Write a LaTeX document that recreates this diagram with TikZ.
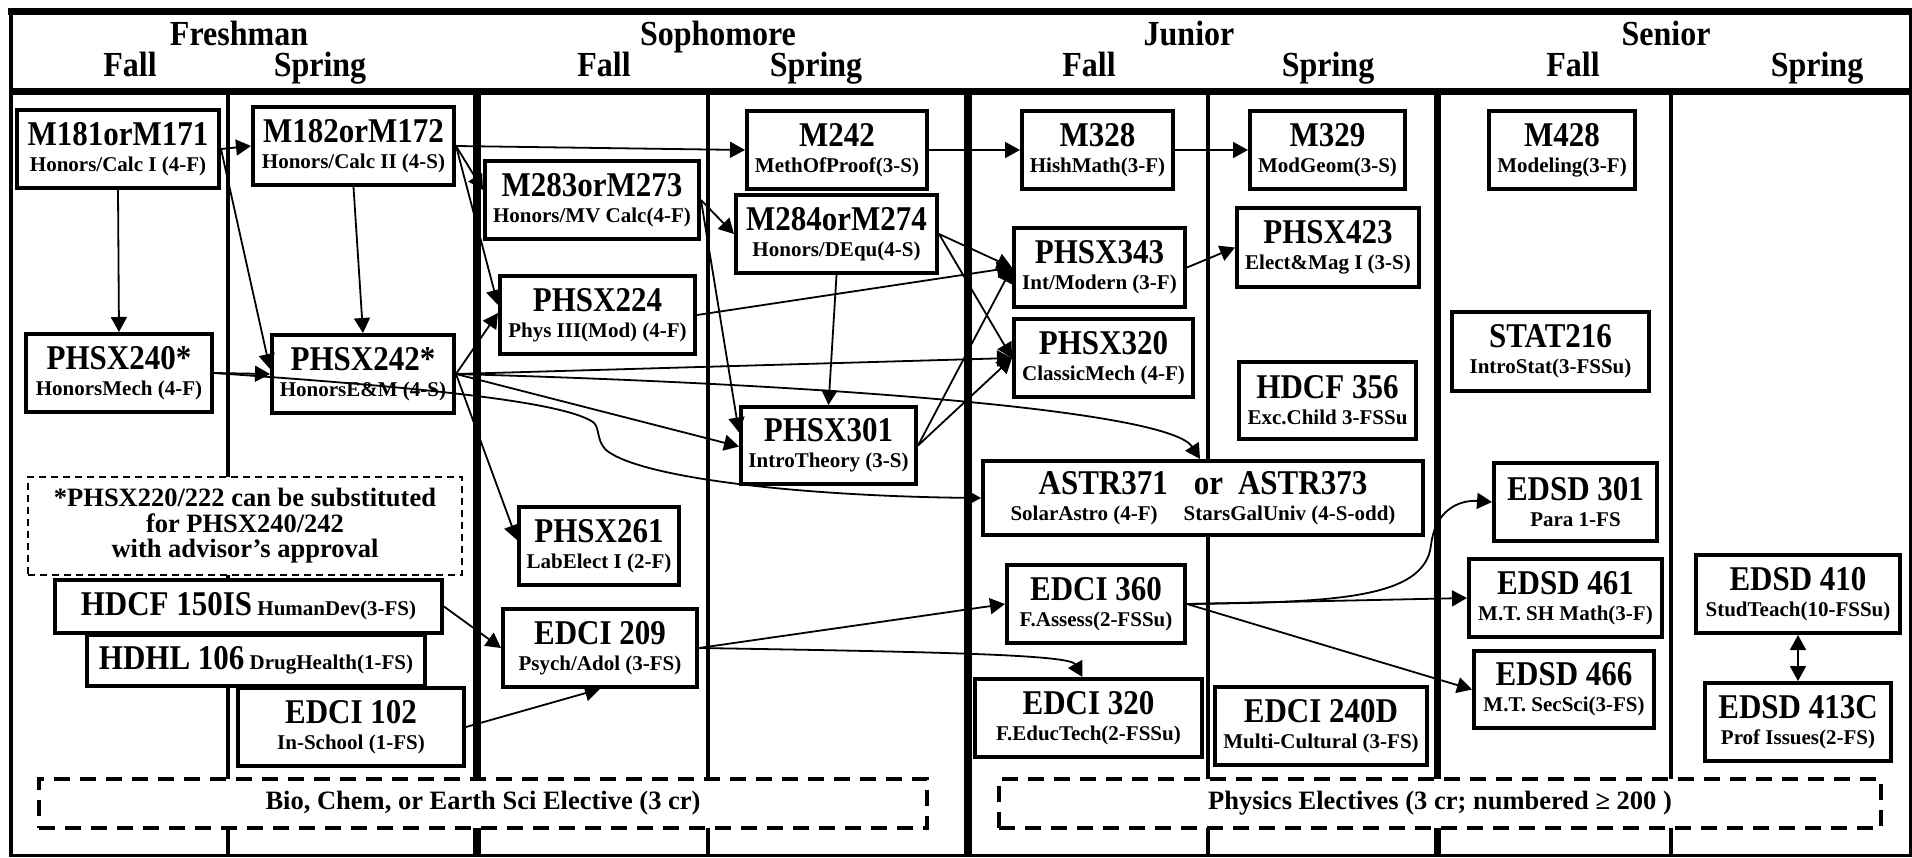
\documentclass[tikz,border=0pt]{standalone}
\usepackage{fontspec}
\usepackage{graphicx}
\setmainfont{Liberation Serif}
\usetikzlibrary{arrows.meta,calc}
\newcommand\bg[1]{{\fontsize{31}{26}\selectfont\scalebox{1}[1.12]{#1}}}
\newcommand\hd[1]{\scalebox{1}[1.1]{#1}}
\tikzset{
  crs/.style={draw, line width=4pt, fill=white, inner sep=0pt, align=center,
    font=\bfseries\fontsize{21}{26}\selectfont},
  arr/.style={line width=1.8pt, -{Triangle[length=15pt,width=16pt]}},
  darr/.style={line width=1.8pt, {Triangle[length=15pt,width=16pt]}-{Triangle[length=15pt,width=16pt]}},
  hdr/.style={font=\bfseries\fontsize{32}{32}\selectfont, anchor=base, inner sep=0pt},
  thickdash/.style={draw, line width=4pt, dash pattern=on 16pt off 10pt, fill=white,
    inner sep=0pt, font=\bfseries\fontsize{26.5}{26}\selectfont},
  thindash/.style={draw, line width=1.5pt, dash pattern=on 7pt off 5pt, fill=white,
    inner sep=0pt, align=center, font=\bfseries\fontsize{26.5}{25.5}\selectfont},
  vline/.style={line width=#1}
}
\begin{document}
\begin{tikzpicture}[x=1pt,y=-1pt]
\useasboundingbox (0,0) rectangle (1912,857);
% frame
\fill (8,8) rectangle (1912,15);
\fill (9,88) rectangle (1912,95);
\fill (9,8) rectangle (13,857);
\fill (9,853.5) rectangle (1912,856.5);
\fill (1909,8) rectangle (1912,857);
% column dividers
\draw[vline=3.5pt] (228,95) -- (228,854);
\draw[vline=8pt] (477,95) -- (477,854);
\draw[vline=4pt] (708,95) -- (708,854);
\draw[vline=8pt] (968,95) -- (968,854);
\draw[vline=4pt] (1208,95) -- (1208,854);
\draw[vline=7pt] (1437,95) -- (1437,854);
\draw[vline=4pt] (1671,95) -- (1671,854);
% headers
\node[hdr] (hfr) at (239,45) {\hd{Freshman}};
\node[hdr] (hso) at (718,45) {\hd{Sophomore}};
\node[hdr] (hju) at (1189,45) {\hd{Junior}};
\node[hdr] (hse) at (1666,45) {\hd{Senior}};
\node[hdr] (hf1) at (130,76) {\hd{Fall}};
\node[hdr] (hs1) at (320,76) {\hd{Spring}};
\node[hdr] (hf2) at (604,76) {\hd{Fall}};
\node[hdr] (hs2) at (816,76) {\hd{Spring}};
\node[hdr] (hf3) at (1089,76) {\hd{Fall}};
\node[hdr] (hs3) at (1328,76) {\hd{Spring}};
\node[hdr] (hf4) at (1573,76) {\hd{Fall}};
\node[hdr] (hs4) at (1817,76) {\hd{Spring}};
% courses
\node[crs, minimum width=202pt, minimum height=78pt] (m181) at (118,149) {\bg{M181orM171}\\Honors/Calc I (4-F)};
\node[crs, minimum width=201pt, minimum height=78pt] (m182) at (353.5,146) {\bg{M182orM172}\\Honors/Calc II (4-S)};
\node[crs, minimum width=186pt, minimum height=78pt] (phsx240) at (119,373) {\bg{PHSX240*}\\HonorsMech (4-F)};
\node[crs, minimum width=182pt, minimum height=78pt] (phsx242) at (363,374) {\bg{PHSX242*}\\HonorsE\&M (4-S)};
\node[crs, minimum width=214pt, minimum height=78pt] (m283) at (592,200) {\bg{M283orM273}\\Honors/MV Calc(4-F)};
\node[crs, minimum width=195pt, minimum height=78pt] (phsx224) at (597.5,315) {\bg{PHSX224}\\Phys III(Mod) (4-F)};
\node[crs, minimum width=180pt, minimum height=78pt] (m242) at (837,150) {\bg{M242}\\MethOfProof(3-S)};
\node[crs, minimum width=201pt, minimum height=78pt] (m284) at (836.5,234) {\bg{M284orM274}\\Honors/DEqu(4-S)};
\node[crs, minimum width=175pt, minimum height=77pt] (phsx301) at (828.5,445.5) {\bg{PHSX301}\\IntroTheory (3-S)};
\node[crs, minimum width=160pt, minimum height=78pt] (phsx261) at (599,546) {\bg{PHSX261}\\LabElect I (2-F)};
\node[crs, minimum width=194pt, minimum height=78pt] (edci209) at (600,648) {\bg{EDCI 209}\\Psych/Adol (3-FS)};
\node[crs, minimum width=151pt, minimum height=78pt] (m328) at (1097.5,150) {\bg{M328}\\HishMath(3-F)};
\node[crs, minimum width=155pt, minimum height=78pt] (m329) at (1327.5,150) {\bg{M329}\\ModGeom(3-S)};
\node[crs, minimum width=171pt, minimum height=79pt] (phsx343) at (1099.5,267.5) {\bg{PHSX343}\\Int/Modern (3-F)};
\node[crs, minimum width=182pt, minimum height=79pt] (phsx423) at (1328,247.5) {\bg{PHSX423}\\Elect\&Mag I (3-S)};
\node[crs, minimum width=179pt, minimum height=78pt] (phsx320) at (1103.5,358) {\bg{PHSX320}\\ClassicMech (4-F)};
\node[crs, minimum width=177pt, minimum height=77pt] (hdcf356) at (1327.5,400.5) {\bg{HDCF 356}\\Exc.Child 3-FSSu};
\node[crs, minimum width=440pt, minimum height=74pt] (astr) at (1203,498) {\bg{ASTR371\hspace{26pt}or\hspace{15pt}ASTR373}\\SolarAstro (4-F)\hspace{26pt}StarsGalUniv (4-S-odd)};
\node[crs, minimum width=178pt, minimum height=78pt] (edci360) at (1096,604) {\bg{EDCI 360}\\F.Assess(2-FSSu)};
\node[crs, minimum width=227pt, minimum height=78pt] (edci320) at (1088.5,718) {\bg{EDCI 320}\\F.EducTech(2-FSSu)};
\node[crs, minimum width=212pt, minimum height=78pt] (edci240) at (1321,726) {\bg{EDCI 240D}\\Multi-Cultural (3-FS)};
\node[crs, minimum width=146pt, minimum height=78pt] (m428) at (1562,150) {\bg{M428}\\Modeling(3-F)};
\node[crs, minimum width=197pt, minimum height=79pt] (stat216) at (1550.5,351.5) {\bg{STAT216}\\IntroStat(3-FSSu)};
\node[crs, minimum width=163pt, minimum height=78pt] (edsd301) at (1575.5,502) {\bg{EDSD 301}\\Para 1-FS};
\node[crs, minimum width=193pt, minimum height=78pt] (edsd461) at (1565.5,598) {\bg{EDSD 461}\\M.T. SH Math(3-F)};
\node[crs, minimum width=180pt, minimum height=77pt] (edsd466) at (1564,689.5) {\bg{EDSD 466}\\M.T. SecSci(3-FS)};
\node[crs, minimum width=204pt, minimum height=78pt] (edsd410) at (1798,594) {\bg{EDSD 410}\\StudTeach(10-FSSu)};
\node[crs, minimum width=186pt, minimum height=78pt] (edsd413) at (1798,722) {\bg{EDSD 413C}\\Prof Issues(2-FS)};
\node[thindash, minimum width=434pt, minimum height=98pt] (note) at (245,526) {*PHSX220/222 can be substituted\\for PHSX240/242\\with advisor’s approval};
\node[crs, minimum width=387pt, minimum height=53pt] (hdcf150) at (248.5,606.5) {\bg{HDCF 150IS} HumanDev(3-FS)};
\node[crs, minimum width=338pt, minimum height=51pt] (hdhl106) at (256,660.5) {\bg{HDHL 106} DrugHealth(1-FS)};
\node[crs, minimum width=226pt, minimum height=78pt] (edci102) at (351,727) {\bg{EDCI 102}\\In-School (1-FS)};
\node[thickdash, minimum width=888pt, minimum height=49pt] (bio) at (483,803.5) {Bio, Chem, or Earth Sci Elective (3 cr)};
\node[thickdash, minimum width=882pt, minimum height=49pt] (phys) at (1440,803.5) {Physics Electives (3 cr; numbered ≥ 200 )};
% connectors
\draw[arr] (m181.east) -- (m182.west);
\draw[arr] (m181.south) -- (phsx240.north);
\draw[arr] (m181.east) -- ($(phsx242.west)+(0,-5)$);
\draw[arr] (m182.east) -- (m242.west);
\draw[arr] (m182.east) -- ($(m283.west)+(0,-10)$);
\draw[arr] (m182.east) -- ($(phsx224.west)+(0,-10)$);
\draw[arr] (m182.south) -- (phsx242.north);
\draw[arr] (phsx240.east) -- (phsx242.west);
\draw[arr] (phsx240.east) .. controls (400,386) and (560,400) .. (593,422)
  .. controls (600,427) and (596,440) .. (606,450)
  .. controls (640,478) and (800,496) .. (astr.west);
\draw[arr] (phsx242.east) -- ($(phsx224.west)+(0,-2)$);
\draw[arr] (phsx242.east) -- (phsx320.west);
\draw[arr] (phsx242.east) .. controls (850,385) and (1170,412) .. ($(astr.north)+(-3,0)$);
\draw[arr] (phsx242.east) -- ($(phsx301.west)+(0,1)$);
\draw[arr] (phsx242.east) -- ($(phsx261.west)+(0,-6)$);
\draw[arr] (m283.east) -- (m284.west);
\draw[arr] (m283.east) -- ($(phsx301.west)+(0,-13)$);
\draw[arr] (m242.east) -- (m328.west);
\draw[arr] (m328.east) -- (m329.west);
\draw[arr] (m284.east) -- (phsx343.west);
\draw[arr] (m284.east) -- (phsx320.west);
\draw[arr] (m284.south) -- (phsx301.north);
\draw[arr] (phsx224.east) -- (phsx343.west);
\draw[arr] (phsx301.east) -- (phsx343.west);
\draw[arr] (phsx301.east) -- (phsx320.west);
\draw[arr] (phsx343.east) -- (phsx423.west);
\draw[arr] (hdcf150.east) -- (edci209.west);
\draw[arr] (edci102.east) -- (edci209.south);
\draw[arr] (edci209.east) -- (edci360.west);
\draw[arr] (edci209.east) .. controls (950,652) and (1070,655) .. ($(edci320.north)+(-6,0)$);
\draw[arr] (edci360.east) .. controls (1330,602) and (1425,600) .. (1431,545)
  .. controls (1436,505) and (1465,500) .. (edsd301.west);
\draw[arr] (edci360.east) -- (edsd461.west);
\draw[arr] (edci360.east) -- (edsd466.west);
\draw[darr] (edsd410.south) -- (edsd413.north);
\end{tikzpicture}
\end{document}
